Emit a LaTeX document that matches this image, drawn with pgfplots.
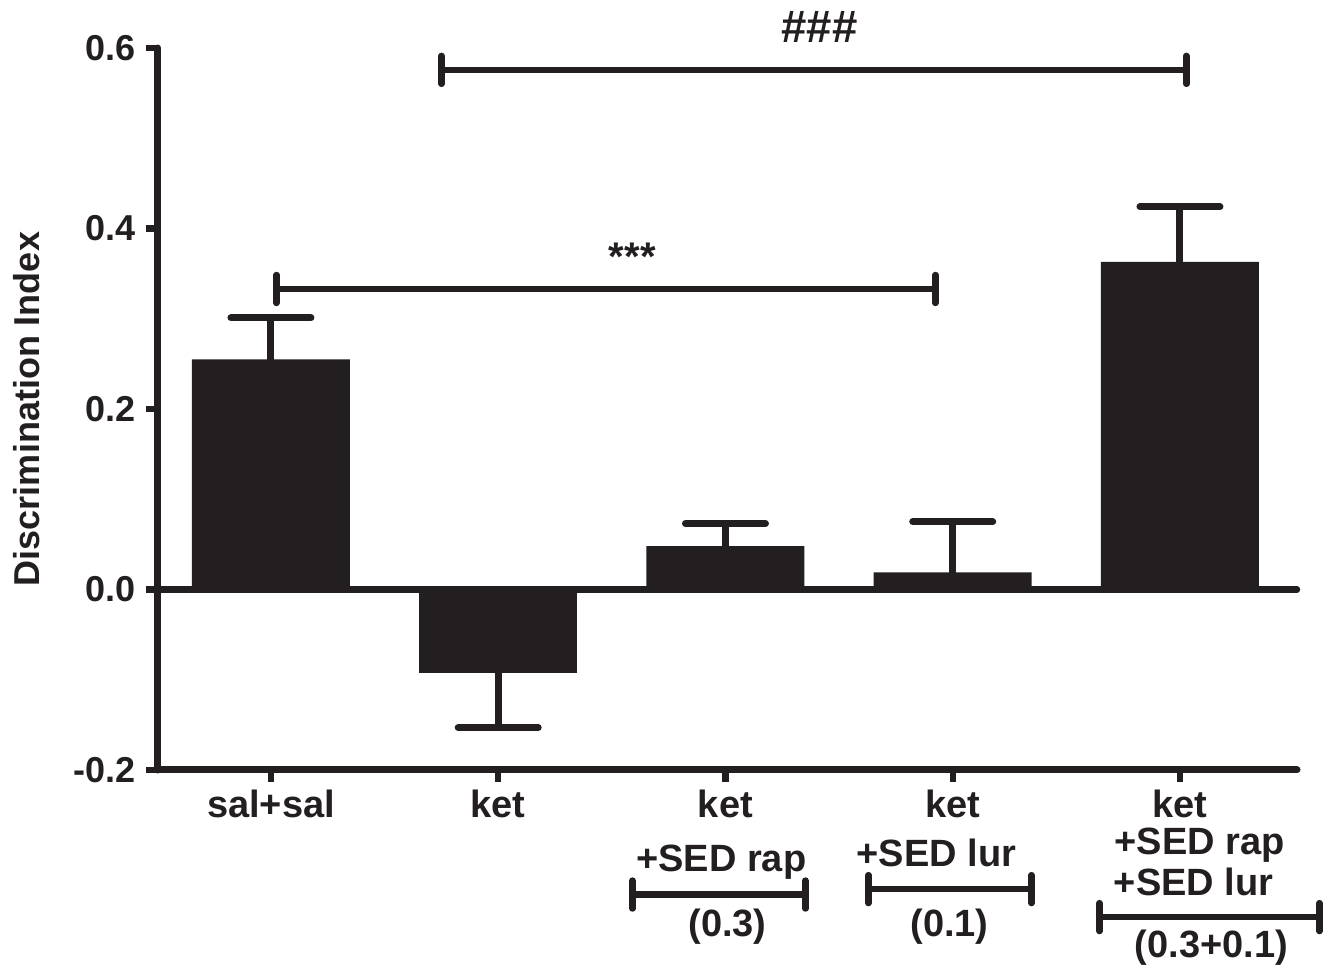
\documentclass[border=0pt]{standalone}
\usepackage{pgfplots}
\pgfplotsset{compat=1.18}
\usepackage{fontspec}
\setmainfont{Liberation Sans}
\definecolor{ink}{HTML}{231F20}
\newcommand{\lf}{\bfseries\fontsize{9}{10}\selectfont}
\newcommand{\xf}{\bfseries\fontsize{9.5}{11}\selectfont}
\begin{document}
\begin{tikzpicture}
\begin{axis}[
  name=ax,
  scale only axis,
  width=284.75pt, height=180.5pt,
  xmin=-0.497, xmax=4.515,
  ymin=-0.2, ymax=0.6,
  axis x line=bottom, axis y line=left,
  axis line style={-, line width=1.75pt, draw=ink, line cap=round},
  xtick={0,1,2,3,4},
  xticklabels={sal+sal,ket,ket,ket,ket},
  ytick={-0.2,0,0.2,0.4,0.6},
  yticklabels={-0.2,0.0,0.2,0.4,0.6},
  tick align=outside,
  major tick length=3pt,
  tick style={line width=1.6pt, draw=ink},
  ticklabel style={font=\lf, text=ink},
  xticklabel style={font=\xf, yshift=1.5pt},
  yticklabel style={xshift=1pt},
  ylabel={Discrimination Index},
  every axis y label/.style={at={(axis description cs:-0.115,0.5)}, rotate=90, anchor=center, font=\lf, text=ink},
  clip=false,
  ybar, bar width=39.5pt, bar shift=0pt,
]
\draw[draw=ink, line width=1.6pt, line cap=round] (axis cs:-0.497,0) -- (axis cs:4.515,0);
\addplot[fill=ink, draw=none,
  error bars/.cd, y dir=plus, y explicit,
  error bar style={line width=1.75pt, draw=ink, line cap=round},
  error mark options={rotate=90, mark size=10pt, line width=1.75pt, draw=ink, line cap=round}]
  coordinates {(0,0.255) +- (0,0.046) (2,0.048) +- (0,0.025) (3,0.019) +- (0,0.056) (4,0.363) +- (0,0.061)};
\addplot[fill=ink, draw=none,
  error bars/.cd, y dir=minus, y explicit,
  error bar style={line width=1.75pt, draw=ink, line cap=round},
  error mark options={rotate=90, mark size=10pt, line width=1.75pt, draw=ink, line cap=round}]
  coordinates {(1,-0.092) +- (0,0.061)};
% significance brackets
\begin{scope}[draw=ink, line width=1.6pt, line cap=round]
\draw (axis cs:0.024,0.333) -- (axis cs:2.924,0.333);
\draw (axis cs:0.024,0.333) ++(0pt,-3.5pt) -- ++(0pt,7pt);
\draw (axis cs:2.924,0.333) ++(0pt,-3.5pt) -- ++(0pt,7pt);
\draw (axis cs:0.750,0.5758) -- (axis cs:4.028,0.5758);
\draw (axis cs:0.750,0.5758) ++(0pt,-3.5pt) -- ++(0pt,7pt);
\draw (axis cs:4.028,0.5758) ++(0pt,-3.5pt) -- ++(0pt,7pt);
% dose brackets
\draw (axis cs:1.591,-0.338) -- (axis cs:2.352,-0.338);
\draw (axis cs:1.591,-0.338) ++(0pt,-3.5pt) -- ++(0pt,7pt);
\draw (axis cs:2.352,-0.338) ++(0pt,-3.5pt) -- ++(0pt,7pt);
\draw (axis cs:2.629,-0.332) -- (axis cs:3.347,-0.332);
\draw (axis cs:2.629,-0.332) ++(0pt,-3.5pt) -- ++(0pt,7pt);
\draw (axis cs:3.347,-0.332) ++(0pt,-3.5pt) -- ++(0pt,7pt);
\draw (axis cs:3.646,-0.363) -- (axis cs:4.614,-0.363);
\draw (axis cs:3.646,-0.363) ++(0pt,-3.5pt) -- ++(0pt,7pt);
\draw (axis cs:4.614,-0.363) ++(0pt,-3.5pt) -- ++(0pt,7pt);
\end{scope}
\node[anchor=base, font=\bfseries\fontsize{11.4}{13}\selectfont, text=ink, yshift=6.75pt, inner sep=0pt] at (axis cs:2.414,0.5758) {\#\#\#};
\node[anchor=base, font=\bfseries\fontsize{10}{12}\selectfont, text=ink, yshift=4.5pt, inner sep=0pt] at (axis cs:1.59,0.333) {***};
\node[anchor=base, font=\xf, text=ink, inner sep=0pt] at (axis cs:1.982,-0.313) {+SED rap};
\node[anchor=base, font=\xf, text=ink, inner sep=0pt] at (axis cs:2.928,-0.307) {+SED lur};
\node[anchor=base, font=\xf, text=ink, inner sep=0pt] at (axis cs:4.086,-0.294) {+SED rap};
\node[anchor=base, font=\xf, text=ink, inner sep=0pt] at (axis cs:4.060,-0.339) {+SED lur};
\node[anchor=base, font=\xf, text=ink, inner sep=0pt] at (axis cs:2.009,-0.384) {(0.3)};
\node[anchor=base, font=\xf, text=ink, inner sep=0pt] at (axis cs:2.986,-0.384) {(0.1)};
\node[anchor=base, font=\xf, text=ink, inner sep=0pt] at (axis cs:4.139,-0.408) {(0.3+0.1)};
\end{axis}
\pgfresetboundingbox
\path[use as bounding box] ([xshift=-39.5pt,yshift=-50.25pt]ax.south west) rectangle ++(334pt,242.75pt);
\end{tikzpicture}
\end{document}
